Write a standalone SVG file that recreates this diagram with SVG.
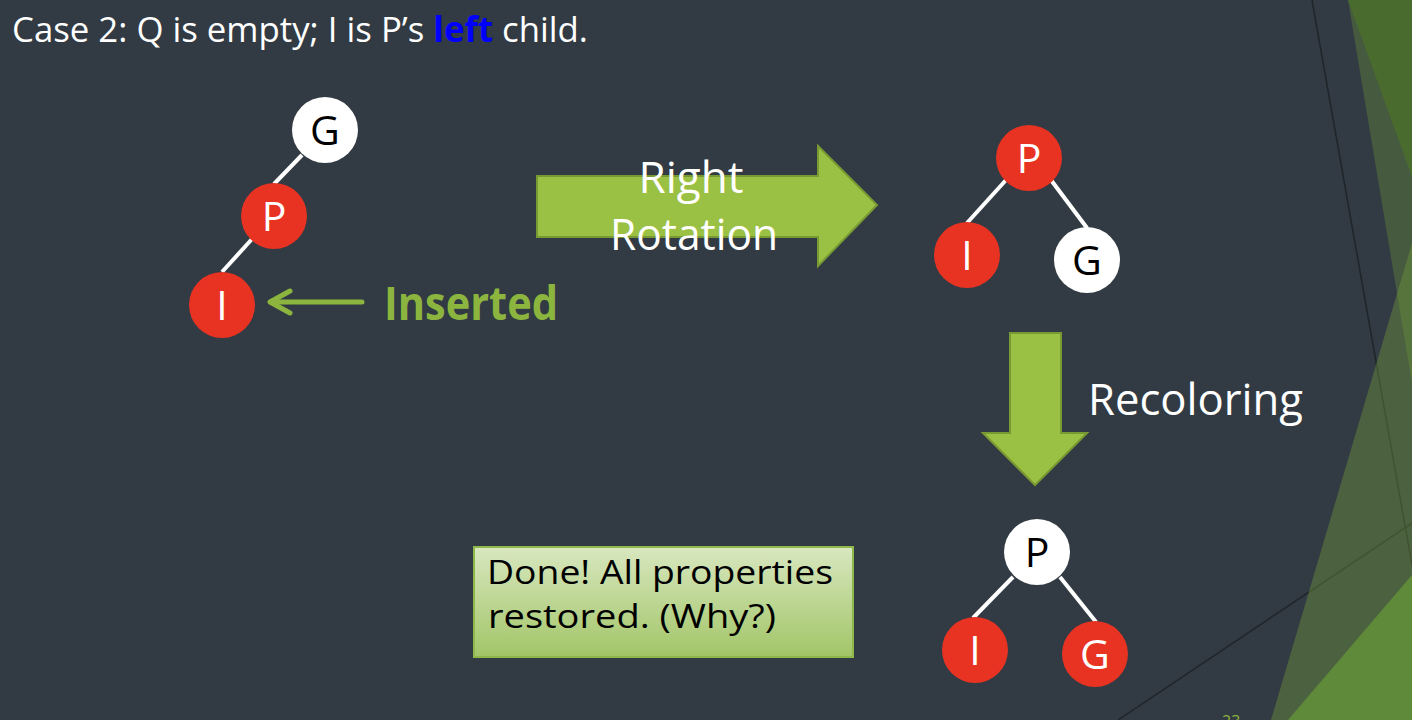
<svg xmlns="http://www.w3.org/2000/svg" width="1412" height="720" viewBox="0 0 1412 720">
<defs>
<linearGradient id="boxg" x1="0" y1="0" x2="0" y2="1">
<stop offset="0" stop-color="#d8e7bf"/>
<stop offset="1" stop-color="#a2c567"/>
</linearGradient>
<style>
.bg{fill:#323b43}
.deco{stroke:#1f252a;stroke-width:1.5;fill:none}
.red{fill:#e83323}
.wht{fill:#ffffff}
.lbl{font-family:"Open Sans","DejaVu Sans",sans-serif;font-size:41px;text-anchor:middle}
.lw{fill:#ffffff}
.lb{fill:#000000}
.edge{stroke:#ffffff;stroke-width:4;fill:none}
.big{font-family:"Open Sans","DejaVu Sans",sans-serif;font-size:44px;fill:#ffffff}
.arrow{fill:#9bc144;stroke:#789a33;stroke-width:2}
</style>
</defs>
<rect class="bg" x="0" y="0" width="1412" height="720"/>
<g id="decoration">
<line class="deco" x1="1312" y1="0" x2="1412" y2="565"/>
<line class="deco" x1="1118" y1="720" x2="1412" y2="523"/>
<polygon points="1348,0 1412,0 1412,383" fill="#76a13a" fill-opacity="0.3"/>
<polygon points="1348,0 1412,0 1412,177" fill="#4a6b2e"/>
<polygon points="1412,243 1271,720 1412,720" fill="#76a13a" fill-opacity="0.38"/>
<polygon points="1288,720 1412,575 1412,720" fill="#5f8a3a"/>
<text x="1222" y="727" font-family="Open Sans, sans-serif" font-size="16" fill="#8db33a">23</text>
</g>
<text x="12" y="42" font-family="Open Sans, DejaVu Sans, sans-serif" font-size="35" fill="#ffffff" textLength="576" lengthAdjust="spacingAndGlyphs">Case 2: Q is empty; I is P’s <tspan fill="#0000ff" font-weight="bold">left</tspan> child.</text>
<g id="connectors">
<line class="edge" x1="302" y1="155" x2="274" y2="184"/>
<line class="edge" x1="252" y1="239" x2="222" y2="272"/>
<line class="edge" x1="1006" y1="180" x2="967" y2="223"/>
<line class="edge" x1="1051" y1="180" x2="1087" y2="228"/>
<line class="edge" x1="1013" y1="577" x2="973" y2="618"/>
<line class="edge" x1="1060" y1="577" x2="1096" y2="622"/>
<g id="inserted-arrow" stroke="#8cb53f" stroke-width="5" fill="none" stroke-linecap="round" stroke-linejoin="round">
<line x1="362" y1="302" x2="271" y2="302"/>
<polyline points="290,291 270,302 290,313"/>
</g>
</g>
<g id="t1-G"><circle class="wht" cx="325" cy="130" r="33"/><text class="lbl lb" x="325" y="145">G</text></g>
<g id="t1-P"><circle class="red" cx="274" cy="216" r="33"/><text class="lbl lw" x="274" y="231">P</text></g>
<g id="t1-I"><circle class="red" cx="222" cy="305" r="33"/><text class="lbl lw" x="222" y="320">I</text></g>
<text x="384" y="320" font-family="Open Sans, DejaVu Sans, sans-serif" font-size="46" font-weight="bold" fill="#8cb53f" textLength="174" lengthAdjust="spacingAndGlyphs">Inserted</text>
<g id="rotation-arrow">
<polygon class="arrow" points="537,176 818,176 818,146 877,205 818,266 818,237 537,237"/>
<text class="big" x="691" y="193" text-anchor="middle" textLength="105" lengthAdjust="spacingAndGlyphs">Right</text>
<text class="big" x="694" y="250" text-anchor="middle" textLength="168" lengthAdjust="spacingAndGlyphs">Rotation</text>
</g>
<g id="t2-P"><circle class="red" cx="1029" cy="158" r="33"/><text class="lbl lw" x="1029" y="173">P</text></g>
<g id="t2-I"><circle class="red" cx="967" cy="255" r="33"/><text class="lbl lw" x="967" y="270">I</text></g>
<g id="t2-G"><circle class="wht" cx="1087" cy="260" r="33"/><text class="lbl lb" x="1087" y="275">G</text></g>
<g id="recolor-arrow">
<polygon class="arrow" points="1010,333 1061,333 1061,433 1087,433 1035,485 983,433 1010,433"/>
<text class="big" x="1088" y="415" textLength="215" lengthAdjust="spacingAndGlyphs">Recoloring</text>
</g>
<g id="t3-P"><circle class="wht" cx="1037" cy="552" r="33"/><text class="lbl lb" x="1037" y="567">P</text></g>
<g id="t3-I"><circle class="red" cx="975" cy="650" r="33"/><text class="lbl lw" x="975" y="665">I</text></g>
<g id="t3-G"><circle class="red" cx="1095" cy="654" r="33"/><text class="lbl lw" x="1095" y="669">G</text></g>
<g id="done-box">
<rect x="474" y="547" width="379" height="110" fill="url(#boxg)" stroke="#8fb84a" stroke-width="2"/>
<text x="487" y="584" font-family="Open Sans, DejaVu Sans, sans-serif" font-size="33" fill="#000000" textLength="346" lengthAdjust="spacingAndGlyphs">Done! All properties</text>
<text x="488" y="628" font-family="Open Sans, DejaVu Sans, sans-serif" font-size="33" fill="#000000" textLength="288" lengthAdjust="spacingAndGlyphs">restored. (Why?)</text>
</g>
</svg>
